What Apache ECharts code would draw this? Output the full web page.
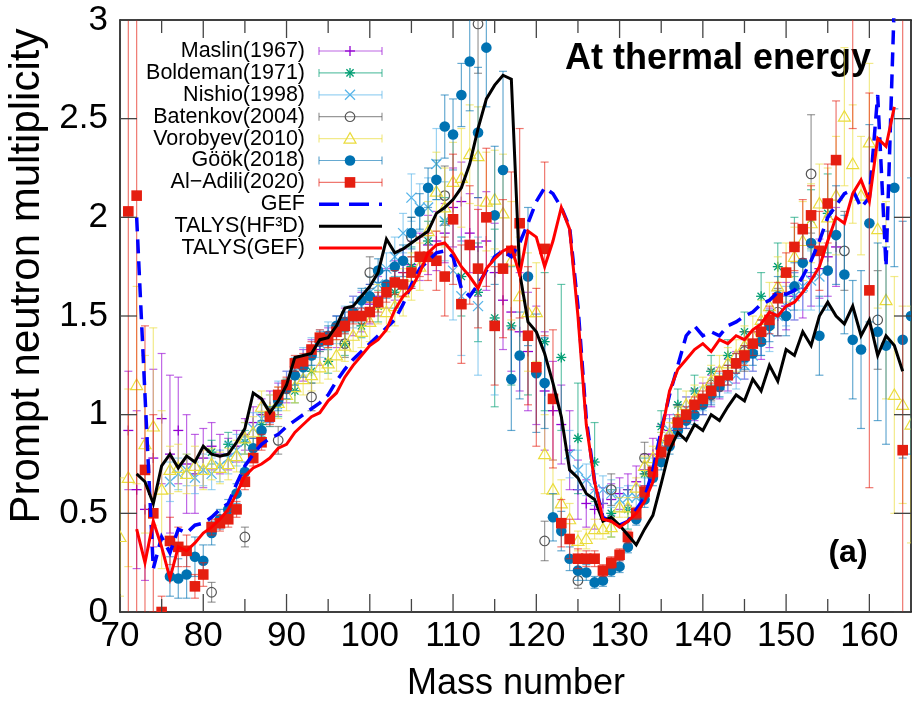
<!DOCTYPE html>
<html><head><meta charset="utf-8">
<script src="https://cdn.jsdelivr.net/npm/echarts@6/dist/echarts.min.js"></script>
<style>html,body{margin:0;padding:0;background:#fff}#c{width:914px;height:705px}</style>
</head><body><div id="c"></div>
<script>
// ---------------- data ----------------
const xTicks = [70, 80, 90, 100, 110, 120, 130, 140, 150, 160];
const xMinorTicks = [75, 85, 95, 105, 115, 125, 135, 145, 155];
const yTicks = [0, 0.5, 1, 1.5, 2, 2.5, 3];
const seriesNames = ['Maslin(1967)', 'Boldeman(1971)', 'Nishio(1998)', 'Batenkov(2004)', 'Vorobyev(2010)', 'Göök(2018)', 'Al\u2212Adili(2020)', 'GEF', 'TALYS(HF³D)', 'TALYS(GEF)'];

// experimental: [A, nu, error]
const maslin = [[71,0.92,0.30],[72,0.62,0.40],[73,0.52,0.36],[74,0.78,0.45],[75,0.98,0.33],[76,0.80,0.40],[77,0.92,0.27],[78,0.75,0.25],[79,0.70,0.20],[80,0.78,0.15],[81,0.84,0.12],[82,0.80,0.10],[83,0.80,0.08],[84,0.84,0.08],[85,0.90,0.08],[86,0.96,0.08],[87,1.00,0.08],[88,1.04,0.08],[89,1.08,0.08],[90,1.14,0.08],[91,1.20,0.08],[92,1.25,0.08],[93,1.30,0.08],[94,1.33,0.08],[95,1.36,0.08],[96,1.42,0.08],[97,1.46,0.08],[98,1.50,0.1],[99,1.52,0.1],[100,1.56,0.1],[101,1.60,0.1],[102,1.64,0.1],[103,1.68,0.1],[104,1.72,0.12],[105,1.76,0.12],[106,1.80,0.12],[107,1.86,0.15],[108,1.88,0.15],[109,1.92,0.15],[110,2.05,0.2],[111,2.08,0.2],[112,1.92,0.2],[113,1.85,0.25],[114,1.88,0.25],[115,1.72,0.25],[116,1.58,0.25],[117,1.52,0.3],[118,1.42,0.3],[119,1.32,0.3],[120,1.25,0.3],[121,1.12,0.3],[122,1.02,0.25],[123,0.95,0.2],[124,0.82,0.2],[125,0.62,0.15],[126,0.55,0.12],[127,0.52,0.1],[128,0.55,0.08],[129,0.57,0.08],[130,0.60,0.08],[131,0.62,0.08],[132,0.66,0.08],[133,0.72,0.08],[134,0.80,0.08],[135,0.87,0.08],[136,0.92,0.08],[137,0.97,0.08],[138,1.01,0.08],[139,1.05,0.08],[140,1.08,0.08],[141,1.12,0.08],[142,1.16,0.08],[143,1.20,0.08],[144,1.24,0.08],[145,1.28,0.1],[146,1.32,0.1],[147,1.38,0.1],[148,1.44,0.1],[149,1.50,0.1],[150,1.55,0.12],[151,1.60,0.12],[152,1.64,0.15],[153,1.70,0.15],[154,1.74,0.15],[155,1.80,0.2],[156,1.85,0.2]];
const boldeman = [[81,0.81,0.06],[83,0.85,0.06],[85,0.86,0.06],[87,0.95,0.06],[89,1.05,0.06],[91,1.12,0.06],[93,1.22,0.06],[95,1.27,0.06],[97,1.36,0.06],[99,1.45,0.06],[101,1.55,0.08],[103,1.62,0.08],[105,1.75,0.1],[107,1.88,0.1],[109,1.98,0.12],[111,1.70,0.2],[113,1.62,0.25],[115,1.49,0.45],[117,1.45,0.3],[119,1.40,0.3],[121,1.37,0.35],[123,1.29,0.37],[125,0.88,0.28],[127,0.76,0.2],[129,0.50,0.12],[131,0.52,0.1],[133,0.70,0.08],[135,0.94,0.08],[137,1.05,0.08],[139,1.12,0.08],[141,1.22,0.08],[143,1.30,0.08],[145,1.42,0.1],[147,1.60,0.12],[149,1.75,0.12],[151,1.85,0.15],[153,1.99,0.15],[155,2.02,0.2]];
const nishio = [[76,0.66,0.1],[77,0.70,0.08],[78,0.72,0.08],[79,0.68,0.08],[80,0.72,0.08],[81,0.70,0.08],[82,0.74,0.08],[83,0.78,0.08],[84,0.82,0.08],[85,0.88,0.08],[86,0.93,0.08],[87,0.98,0.07],[88,1.03,0.07],[89,1.10,0.07],[90,1.15,0.07],[91,1.22,0.07],[92,1.27,0.07],[93,1.32,0.07],[94,1.36,0.07],[95,1.40,0.07],[96,1.43,0.07],[97,1.48,0.07],[98,1.52,0.08],[99,1.55,0.08],[100,1.62,0.08],[101,1.66,0.08],[102,1.74,0.08],[103,1.80,0.1],[104,1.92,0.1],[105,2.10,0.12],[106,2.05,0.12],[107,2.05,0.15],[108,2.27,0.18],[109,1.98,0.2],[110,1.73,0.25],[111,1.60,0.3],[113,1.55,0.35],[115,1.45,0.35],[124,0.80,0.12],[125,0.72,0.1],[126,0.67,0.08],[127,0.62,0.08],[128,0.62,0.07],[129,0.60,0.07],[130,0.57,0.06],[131,0.58,0.06],[132,0.58,0.06],[133,0.62,0.06],[134,0.72,0.06],[135,0.85,0.06],[136,0.92,0.06],[137,0.98,0.06],[138,1.03,0.06],[139,1.05,0.06],[140,1.08,0.06],[141,1.12,0.06],[142,1.15,0.06],[143,1.18,0.07],[144,1.20,0.07],[145,1.25,0.07],[146,1.30,0.08],[147,1.38,0.08],[148,1.42,0.1],[149,1.50,0.1],[150,1.55,0.1],[151,1.60,0.12],[152,1.65,0.12],[153,1.68,0.15],[154,1.70,0.15]];
const batenkov = [[81,0.10,0.05],[85,0.38,0.05],[89,0.87,0.07],[93,1.09,0.07],[97,1.36,0.07],[100,1.72,0.08],[105,1.90,0.1],[109,2.11,0.15],[113,2.98,0.25],[121,0.36,0.1],[125,0.16,0.04],[129,0.62,0.08],[133,0.78,0.08],[137,0.97,0.08],[141,1.15,0.08],[145,1.32,0.1],[149,1.52,0.12],[153,2.22,0.3],[157,1.83,0.2],[161,1.48,0.25]];
const vorobyev = [[70,0.38,0.3],[71,0.68,0.45],[72,1.15,0.5],[73,0.85,0.45],[74,0.94,0.5],[75,0.62,0.4],[76,0.72,0.12],[77,0.73,0.12],[78,0.70,0.1],[79,0.74,0.1],[80,0.72,0.1],[81,0.75,0.08],[82,0.73,0.08],[83,0.75,0.08],[84,0.79,0.08],[85,0.88,0.08],[86,0.91,0.08],[87,1.04,0.08],[88,1.02,0.08],[89,1.06,0.08],[90,1.10,0.08],[91,1.14,0.08],[92,1.18,0.08],[93,1.20,0.08],[94,1.24,0.08],[95,1.26,0.08],[96,1.30,0.08],[97,1.35,0.08],[98,1.40,0.08],[99,1.42,0.08],[100,1.47,0.1],[101,1.56,0.1],[102,1.52,0.1],[103,1.55,0.1],[104,1.62,0.12],[105,1.70,0.12],[106,1.75,0.12],[107,1.93,0.15],[108,2.13,0.2],[109,2.05,0.2],[110,2.18,0.2],[111,2.20,0.25],[112,2.32,0.25],[113,2.31,0.25],[114,2.08,0.25],[115,2.09,0.25],[116,2.02,0.3],[117,1.78,0.3],[118,1.60,0.3],[119,1.52,0.3],[120,1.52,0.25],[121,0.80,0.2],[122,0.62,0.15],[123,0.55,0.12],[124,0.47,0.08],[125,0.36,0.05],[126,0.37,0.05],[127,0.42,0.05],[128,0.42,0.05],[129,0.43,0.05],[130,0.53,0.05],[131,0.53,0.05],[132,0.63,0.05],[133,0.74,0.05],[134,0.78,0.06],[135,0.85,0.06],[136,0.90,0.06],[137,0.98,0.06],[138,1.05,0.07],[139,1.08,0.07],[140,1.12,0.07],[141,1.17,0.08],[142,1.22,0.08],[143,1.26,0.08],[144,1.30,0.08],[145,1.35,0.1],[146,1.40,0.1],[147,1.48,0.1],[148,1.55,0.12],[149,1.65,0.15],[150,1.72,0.15],[151,1.80,0.15],[152,1.88,0.2],[153,1.97,0.2],[154,2.07,0.2],[155,2.00,0.25],[156,2.11,0.3],[157,2.51,0.35],[158,2.27,0.3],[159,2.11,0.3],[160,2.38,0.4],[161,1.94,0.4],[162,1.58,0.5],[163,1.10,0.6],[164,1.05,0.5],[165,0.95,0.6]];
const goeoek = [[76,0.18,0.1],[77,0.17,0.1],[78,0.19,0.12],[79,0.28,0.1],[80,0.26,0.08],[81,0.40,0.06],[82,0.47,0.05],[83,0.52,0.05],[84,0.60,0.05],[85,0.71,0.05],[86,0.83,0.05],[87,0.92,0.05],[88,0.99,0.05],[89,1.07,0.05],[90,1.13,0.05],[91,1.20,0.05],[92,1.24,0.05],[93,1.30,0.05],[94,1.37,0.05],[95,1.40,0.05],[96,1.45,0.05],[97,1.47,0.05],[98,1.52,0.05],[99,1.58,0.06],[100,1.60,0.06],[101,1.73,0.06],[102,1.66,0.07],[103,1.75,0.07],[104,1.78,0.08],[105,1.92,0.08],[106,2.03,0.09],[107,2.15,0.1],[108,2.19,0.1],[109,2.46,0.16],[110,2.42,0.18],[111,2.62,0.16],[112,2.79,0.25],[113,2.43,0.33],[114,2.86,0.3],[115,2.01,0.35],[116,2.24,0.5],[117,1.18,0.26],[118,1.30,0.22],[119,1.70,0.35],[120,1.21,0.3],[121,1.16,0.23],[122,0.48,0.12],[123,0.41,0.1],[124,0.27,0.06],[125,0.21,0.05],[126,0.20,0.04],[127,0.15,0.03],[128,0.16,0.03],[129,0.21,0.03],[130,0.23,0.03],[131,0.33,0.03],[132,0.47,0.03],[133,0.57,0.04],[134,0.68,0.04],[135,0.76,0.04],[136,0.84,0.04],[137,0.92,0.04],[138,0.97,0.04],[139,1.00,0.05],[140,1.05,0.05],[141,1.10,0.05],[142,1.14,0.05],[143,1.20,0.05],[144,1.26,0.05],[145,1.29,0.06],[146,1.31,0.06],[147,1.37,0.07],[148,1.45,0.08],[149,1.60,0.1],[150,1.50,0.1],[151,1.65,0.12],[152,1.77,0.15],[153,1.87,0.15],[154,1.40,0.2],[155,1.73,0.2],[156,1.91,0.25],[157,1.71,0.3],[158,1.38,0.3],[159,1.33,0.4],[160,1.97,0.5],[161,1.42,0.45],[162,1.35,0.5],[163,2.15,0.4],[164,1.38,0.6],[165,1.50,0.7]];
const alAdili = [[71,2.03,2.5],[72,2.11,2.5],[73,0.72,0.73],[74,0.50,0.5],[75,0.00,0.08],[76,0.36,0.12],[77,0.33,0.1],[78,0.31,0.08],[79,0.13,0.06],[80,0.19,0.06],[81,0.43,0.04],[82,0.45,0.04],[83,0.47,0.04],[84,0.52,0.04],[85,0.66,0.04],[86,0.78,0.04],[87,0.86,0.04],[88,0.99,0.04],[89,1.10,0.04],[90,1.15,0.04],[91,1.26,0.04],[92,1.27,0.04],[93,1.33,0.04],[94,1.39,0.04],[95,1.38,0.04],[96,1.42,0.04],[97,1.45,0.04],[98,1.50,0.04],[99,1.50,0.04],[100,1.52,0.05],[101,1.57,0.05],[102,1.62,0.05],[103,1.67,0.06],[104,1.66,0.06],[105,1.72,0.08],[106,1.80,0.1],[107,1.80,0.12],[108,1.78,0.15],[109,1.70,0.2],[110,1.99,0.33],[111,1.56,0.3],[112,1.86,0.3],[113,1.74,0.3],[114,2.00,0.35],[115,1.45,0.3],[116,1.74,0.35],[117,1.83,0.4],[118,1.97,0.48],[119,1.40,0.35],[120,1.24,0.4],[121,1.84,0.44],[122,1.08,0.35],[123,0.45,0.12],[124,0.37,0.1],[125,0.27,0.05],[126,0.27,0.04],[127,0.27,0.04],[128,0.21,0.03],[129,0.25,0.03],[130,0.29,0.03],[131,0.38,0.03],[132,0.50,0.03],[133,0.61,0.03],[134,0.71,0.03],[135,0.81,0.03],[136,0.87,0.03],[137,0.96,0.04],[138,1.00,0.04],[139,1.05,0.04],[140,1.08,0.04],[141,1.12,0.04],[142,1.17,0.05],[143,1.20,0.05],[144,1.26,0.05],[145,1.30,0.05],[146,1.36,0.06],[147,1.42,0.06],[148,1.48,0.07],[149,1.59,0.08],[150,1.72,0.1],[151,1.85,0.12],[152,1.94,0.15],[153,2.01,0.15],[154,1.83,0.2],[155,2.07,0.2],[156,2.29,0.3],[158,3.3,0.85],[160,1.63,1.0],[164,0.82,3.0]];

// calculations: [A, nu]
const gef = [[72,2.00],[73,1.10],[74,0.22],[75,0.38],[76,0.30],[77,0.42],[78,0.40],[79,0.44],[80,0.45],[81,0.48],[82,0.52],[83,0.55],[84,0.65],[85,0.74],[86,0.80],[87,0.85],[88,0.88],[89,0.90],[90,0.94],[91,0.97],[92,1.00],[93,1.03],[94,1.06],[95,1.10],[96,1.17],[97,1.23],[98,1.28],[99,1.32],[100,1.36],[101,1.40],[102,1.44],[103,1.48],[104,1.56],[105,1.66],[106,1.74],[107,1.78],[108,1.82],[109,1.83],[110,1.80],[111,1.64],[112,1.60],[113,1.66],[114,1.73],[115,1.80],[116,1.83],[117,1.80],[118,1.87],[119,1.97],[120,2.08],[121,2.15],[122,2.12],[123,2.05],[124,1.95],[125,1.55],[126,0.98],[127,0.66],[128,0.48],[129,0.46],[130,0.44],[131,0.46],[132,0.52],[133,0.58],[134,0.72],[135,0.92],[136,1.10],[137,1.25],[138,1.40],[139,1.45],[140,1.40],[141,1.42],[142,1.40],[143,1.45],[144,1.47],[145,1.50],[146,1.52],[147,1.56],[148,1.58],[149,1.62],[150,1.61],[151,1.63],[152,1.70],[153,1.78],[154,1.88],[155,2.00],[156,2.06],[157,2.12],[158,2.14],[159,2.05],[160,2.10],[161,2.62],[162,1.75],[163,3.10]];
const talysHF3D = [[72,0.70],[73,0.66],[74,0.55],[75,0.74],[76,0.80],[77,0.73],[78,0.79],[79,0.76],[80,0.84],[81,0.80],[82,0.79],[83,0.80],[84,0.86],[85,0.93],[86,1.11],[87,1.08],[88,1.01],[89,1.07],[90,1.15],[91,1.29],[92,1.30],[93,1.31],[94,1.38],[95,1.39],[96,1.45],[97,1.54],[98,1.55],[99,1.60],[100,1.65],[101,1.72],[102,1.89],[103,1.82],[104,1.84],[105,1.87],[106,1.90],[107,1.93],[108,2.02],[109,2.05],[110,2.09],[111,2.15],[112,2.27],[113,2.45],[114,2.60],[115,2.67],[116,2.72],[117,2.70],[118,1.72],[119,1.47],[120,1.42],[121,1.31],[122,1.16],[123,0.99],[124,0.72],[125,0.68],[126,0.60],[127,0.57],[128,0.46],[129,0.48],[130,0.44],[131,0.39],[132,0.34],[133,0.42],[134,0.49],[135,0.65],[136,0.82],[137,0.91],[138,0.87],[139,0.95],[140,0.92],[141,1.00],[142,0.97],[143,1.04],[144,1.10],[145,1.07],[146,1.18],[147,1.12],[148,1.25],[149,1.17],[150,1.33],[151,1.30],[152,1.42],[153,1.35],[154,1.50],[155,1.57],[156,1.50],[157,1.46],[158,1.55],[159,1.40],[160,1.48],[161,1.30],[162,1.40],[163,1.35],[164,1.22]];
const talysGEF = [[72,0.42],[73,0.25],[74,0.46],[75,0.33],[76,0.17],[77,0.33],[78,0.31],[79,0.35],[80,0.40],[81,0.43],[82,0.47],[83,0.52],[84,0.60],[85,0.69],[86,0.73],[87,0.75],[88,0.78],[89,0.83],[90,0.85],[91,0.91],[92,0.95],[93,0.99],[94,1.01],[95,1.07],[96,1.11],[97,1.19],[98,1.25],[99,1.30],[100,1.35],[101,1.38],[102,1.43],[103,1.53],[104,1.60],[105,1.64],[106,1.72],[107,1.82],[108,1.86],[109,1.87],[110,1.82],[111,1.75],[112,1.70],[113,1.64],[114,1.74],[115,1.79],[116,1.83],[117,1.85],[118,1.71],[119,1.93],[120,1.90],[121,1.75],[122,1.88],[123,2.05],[124,1.94],[125,1.50],[126,0.95],[127,0.66],[128,0.47],[129,0.46],[130,0.43],[131,0.46],[132,0.50],[133,0.56],[134,0.66],[135,0.90],[136,1.12],[137,1.23],[138,1.28],[139,1.33],[140,1.36],[141,1.32],[142,1.38],[143,1.36],[144,1.40],[145,1.38],[146,1.43],[147,1.46],[148,1.52],[149,1.50],[150,1.55],[151,1.57],[152,1.62],[153,1.68],[154,1.75],[155,1.88],[156,2.00],[157,1.97],[158,2.12],[159,2.19],[160,2.08],[161,2.40],[162,2.36],[163,2.56]];

// ---------------- styling ----------------
const FONT = '"Liberation Sans", Arial, Helvetica, sans-serif';
const expDefs = [
  {data: maslin,   color: '#9400d3', shape: 'plus'},
  {data: boldeman, color: '#009e73', shape: 'star'},
  {data: nishio,   color: '#56b4e9', shape: 'cross'},
  {data: batenkov, color: '#555555', shape: 'ocircle'},
  {data: vorobyev, color: '#eadc3c', shape: 'otri'},
  {data: goeoek,   color: '#0072b2', shape: 'fcircle'},
  {data: alAdili,  color: '#e51e10', shape: 'fsquare'}
];
const lineDefs = [
  {data: gef,       color: '#0000ff', width: 3.5, dash: [14, 8]},
  {data: talysHF3D, color: '#000000', width: 3,   dash: 'solid'},
  {data: talysGEF,  color: '#ff0000', width: 3,   dash: 'solid'}
];
const BAR_OPACITY = 0.6;

function markerEls(shape, cx, cy, color) {
  const s = 5, lw = 1.3;
  const ln = (x1, y1, x2, y2) => ({type: 'line', shape: {x1, y1, x2, y2}, style: {stroke: color, lineWidth: lw}});
  const d = s * 0.72;
  switch (shape) {
    case 'plus': return [ln(cx - s, cy, cx + s, cy), ln(cx, cy - s, cx, cy + s)];
    case 'star': return [ln(cx - s, cy, cx + s, cy), ln(cx, cy - s, cx, cy + s), ln(cx - d, cy - d, cx + d, cy + d), ln(cx - d, cy + d, cx + d, cy - d)];
    case 'cross': return [ln(cx - s, cy - s, cx + s, cy + s), ln(cx - s, cy + s, cx + s, cy - s)];
    case 'ocircle': return [{type: 'circle', shape: {cx, cy, r: 4.8}, style: {stroke: color, fill: null, lineWidth: 1.2}}];
    case 'otri': return [{type: 'polygon', shape: {points: [[cx, cy - 6], [cx + 6, cy + 4.5], [cx - 6, cy + 4.5]]}, style: {stroke: color, fill: null, lineWidth: 1.2}}];
    case 'fcircle': return [{type: 'circle', shape: {cx, cy, r: 5.3}, style: {fill: color}}];
    case 'fsquare': return [{type: 'rect', shape: {x: cx - 5.3, y: cy - 5.3, width: 10.6, height: 10.6}, style: {fill: color}}];
  }
  return [];
}

function expSeries(def, i) {
  return {
    type: 'custom', name: seriesNames[i], data: def.data, silent: true, clip: true,
    xAxisIndex: 0, yAxisIndex: 0, encode: {x: 0, y: 1},
    renderItem: function (params, api) {
      const x = api.value(0), y = api.value(1), e = api.value(2);
      const cs = params.coordSys;
      const cTop = cs.y, cBot = cs.y + cs.height, cLeft = cs.x, cRight = cs.x + cs.width;
      const p = api.coord([x, y]);
      let yHi = api.coord([x, y + e])[1], yLo = api.coord([x, y - e])[1];
      const hiIn = yHi >= cTop - 0.5, loIn = yLo <= cBot + 0.5;
      yHi = Math.max(yHi, cTop); yLo = Math.min(yLo, cBot);
      const bs = {stroke: def.color, lineWidth: 1.2, opacity: BAR_OPACITY};
      const cw = 4, ch = [];
      if (yLo > yHi) ch.push({type: 'line', shape: {x1: p[0], y1: yHi, x2: p[0], y2: yLo}, style: bs});
      if (hiIn) ch.push({type: 'line', shape: {x1: Math.max(cLeft, p[0] - cw), y1: yHi, x2: Math.min(cRight, p[0] + cw), y2: yHi}, style: bs});
      if (loIn) ch.push({type: 'line', shape: {x1: Math.max(cLeft, p[0] - cw), y1: yLo, x2: Math.min(cRight, p[0] + cw), y2: yLo}, style: bs});
      if (p[1] >= cTop - 1 && p[1] <= cBot + 1) markerEls(def.shape, p[0], p[1], def.color).forEach(m => ch.push(m));
      return {type: 'group', children: ch};
    }
  };
}

function lineSeries(def, i) {
  return {
    type: 'line', name: seriesNames[7 + i], data: def.data, showSymbol: false, symbol: 'none',
    xAxisIndex: 0, yAxisIndex: 0, clip: true, silent: true,
    lineStyle: {color: def.color, width: def.width, type: def.dash, cap: 'butt', join: 'miter'}
  };
}

// ---------------- legend (graphic) ----------------
const legendEls = [];
const LX_TEXT = 305, LX0 = 319, LX1 = 382, LXM = 350;
seriesNames.forEach((nm, i) => {
  const yRow = 51 + 21.9 * i;
  legendEls.push({type: 'text', x: LX_TEXT, y: yRow, silent: true, style: {text: nm, fill: '#000', font: '21.5px ' + FONT, textAlign: 'right', textVerticalAlign: 'middle', align: 'right', verticalAlign: 'middle'}});
  if (i < 7) {
    const d = expDefs[i];
    const bs = {stroke: d.color, lineWidth: 1.2, opacity: BAR_OPACITY};
    legendEls.push({type: 'line', silent: true, shape: {x1: LX0, y1: yRow, x2: LX1, y2: yRow}, style: bs});
    legendEls.push({type: 'line', silent: true, shape: {x1: LX0, y1: yRow - 4, x2: LX0, y2: yRow + 4}, style: bs});
    legendEls.push({type: 'line', silent: true, shape: {x1: LX1, y1: yRow - 4, x2: LX1, y2: yRow + 4}, style: bs});
    markerEls(d.shape, LXM, yRow, d.color).forEach(m => { m.silent = true; legendEls.push(m); });
  } else {
    const d = lineDefs[i - 7];
    legendEls.push({type: 'line', silent: true, shape: {x1: LX0, y1: yRow, x2: LX1, y2: yRow}, style: {stroke: d.color, lineWidth: d.width, lineDash: Array.isArray(d.dash) ? [20, 10] : null}});
  }
});

const textEls = [
  {type: 'text', x: 27, y: 276, rotation: Math.PI / 2, silent: true, style: {text: 'Prompt neutron multiplicity', fill: '#000', font: '42px ' + FONT, textAlign: 'center', textVerticalAlign: 'middle', align: 'center', verticalAlign: 'middle'}},
  {type: 'text', x: 516, y: 684, silent: true, style: {text: 'Mass number', fill: '#000', font: '36px ' + FONT, textAlign: 'center', textVerticalAlign: 'middle', align: 'center', verticalAlign: 'middle'}},
  {type: 'text', x: 565, y: 59, silent: true, style: {text: 'At thermal energy', fill: '#000', font: 'bold 36px ' + FONT, textAlign: 'left', textVerticalAlign: 'middle', align: 'left', verticalAlign: 'middle'}},
  {type: 'text', x: 848, y: 553, silent: true, style: {text: '(a)', fill: '#000', font: 'bold 32px ' + FONT, textAlign: 'center', textVerticalAlign: 'middle', align: 'center', verticalAlign: 'middle'}}
];

// ---------------- axes ----------------
function xAx(pos, labels) {
  return {
    type: 'value', position: pos, min: 70, max: 165, interval: 10,
    axisLine: {show: true, onZero: false, lineStyle: {color: '#000', width: 1.5}},
    axisTick: {show: false},
    axisLabel: labels ? {show: true, fontSize: 35, fontFamily: FONT, color: '#000', margin: 7,
      formatter: v => (xTicks.indexOf(v) >= 0 ? String(v) : '')} : {show: false},
    splitLine: {show: false}
  };
}
function yAx(pos, labels) {
  return {
    type: 'value', position: pos, min: 0, max: 3, interval: 0.5,
    axisLine: {show: true, onZero: false, lineStyle: {color: '#000', width: 1.5}},
    axisTick: {show: false},
    axisLabel: labels ? {show: true, fontSize: 35, fontFamily: FONT, color: '#000', margin: 12,
      formatter: v => (yTicks.indexOf(v) >= 0 ? String(v) : '')} : {show: false},
    splitLine: {show: false}
  };
}

const option = {
  animation: false,
  grid: {left: 120, right: 3, top: 20, bottom: 93},
  xAxis: [xAx('bottom', true), xAx('top', false)],
  yAxis: [yAx('left', true), yAx('right', false)],
  series: expDefs.map(expSeries).concat(lineDefs.map(lineSeries))
};

const chart = echarts.init(document.getElementById('c'), null, {renderer: 'canvas'});
chart.setOption(option);

// inward frame ticks on all four sides, positioned through the axis scales
const toPx = v => chart.convertToPixel({gridIndex: 0}, v);
const gBL = toPx([70, 0]), gTR = toPx([165, 3]);
const gLeft = gBL[0], gBot = gBL[1], gRight = gTR[0], gTop = gTR[1];
const TICK = {stroke: '#444', lineWidth: 1.3};
const tickEls = [];
xTicks.concat(xMinorTicks).forEach(v => {
  const len = xTicks.indexOf(v) >= 0 ? 18 : 13;
  const tx = toPx([v, 0])[0];
  tickEls.push({type: 'line', z: 100, silent: true, shape: {x1: tx, y1: gBot, x2: tx, y2: gBot - len}, style: TICK});
  tickEls.push({type: 'line', z: 100, silent: true, shape: {x1: tx, y1: gTop, x2: tx, y2: gTop + len}, style: TICK});
});
yTicks.forEach(v => {
  const ty = toPx([70, v])[1];
  tickEls.push({type: 'line', z: 100, silent: true, shape: {x1: gLeft, y1: ty, x2: gLeft + 17, y2: ty}, style: TICK});
  tickEls.push({type: 'line', z: 100, silent: true, shape: {x1: gRight, y1: ty, x2: gRight - 17, y2: ty}, style: TICK});
});
chart.setOption({graphic: {elements: legendEls.concat(textEls, tickEls)}});
</script></body></html>
